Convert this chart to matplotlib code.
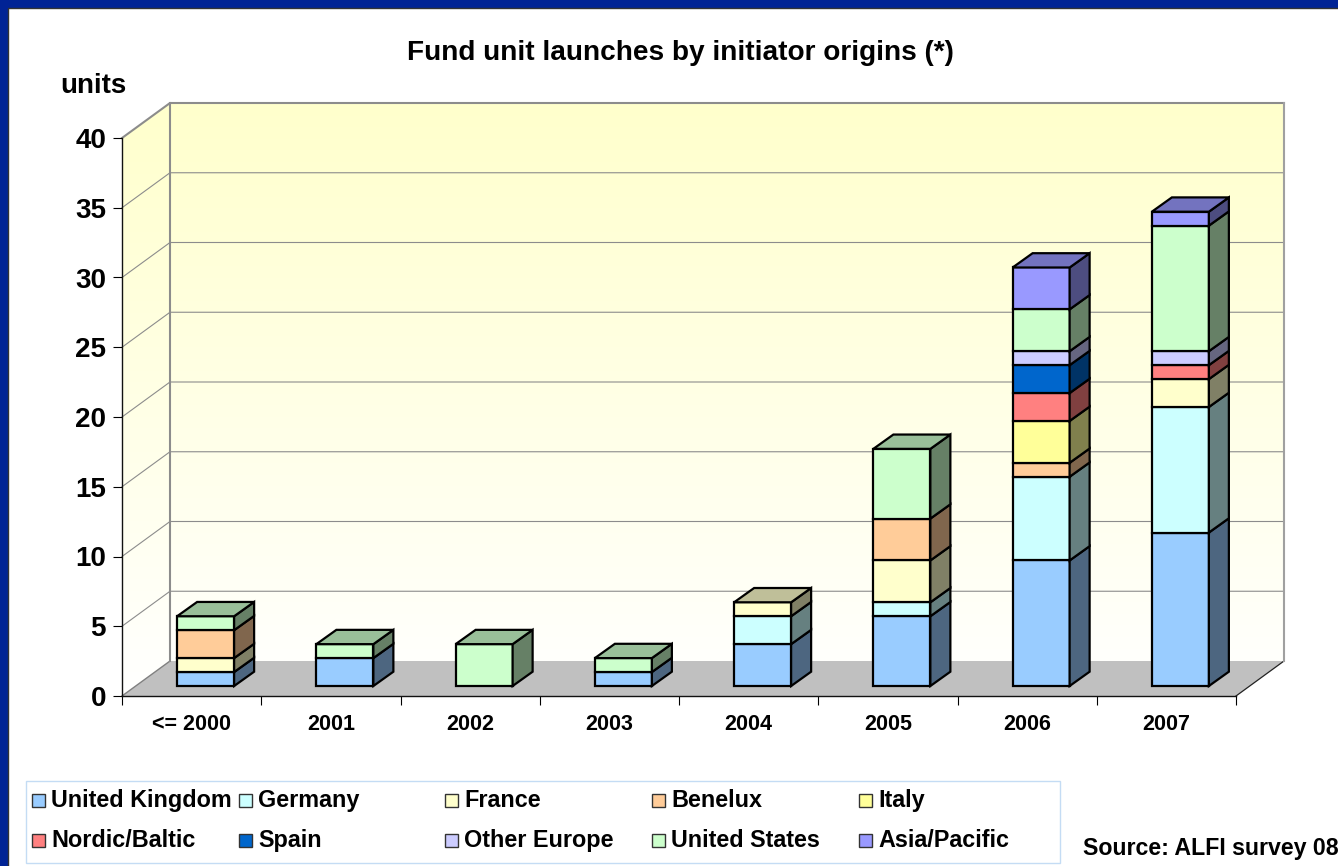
import numpy as np
import matplotlib
matplotlib.use('Agg')
import matplotlib.pyplot as plt
from matplotlib.colors import LinearSegmentedColormap, to_rgb
from matplotlib.patches import Polygon, Rectangle

plt.rcParams['font.family'] = ['Liberation Sans', 'DejaVu Sans']
plt.rcParams['font.weight'] = 'bold'

years = ['<= 2000', '2001', '2002', '2003', '2004', '2005', '2006', '2007']

united_kingdom = [1, 2, 0, 1, 3, 5, 9, 11]
germany = [0, 0, 0, 0, 2, 1, 6, 9]
france = [1, 0, 0, 0, 1, 3, 0, 2]
benelux = [2, 0, 0, 0, 0, 3, 1, 0]
italy = [0, 0, 0, 0, 0, 0, 3, 0]
nordic_baltic = [0, 0, 0, 0, 0, 0, 2, 1]
spain = [0, 0, 0, 0, 0, 0, 2, 0]
other_europe = [0, 0, 0, 0, 0, 0, 1, 1]
united_states = [1, 1, 3, 1, 0, 5, 3, 9]
asia_pacific = [0, 0, 0, 0, 0, 0, 3, 1]

series = [united_kingdom, germany, france, benelux, italy,
          nordic_baltic, spain, other_europe, united_states, asia_pacific]
names = ['United Kingdom', 'Germany', 'France', 'Benelux', 'Italy',
         'Nordic/Baltic', 'Spain', 'Other Europe', 'United States', 'Asia/Pacific']
colors = ['#99CCFF', '#CCFFFF', '#FFFFCC', '#FFCC99', '#FFFF99',
          '#FF8080', '#0066CC', '#CCCCFF', '#CCFFCC', '#9999FF']

W, H = 1338, 866
yticks = list(range(0, 45, 5))


def fx(x):
    return x / W


def fy(y):
    return 1 - y / H


def shade(color, k):
    return tuple(c * k for c in to_rgb(color))


fig = plt.figure(figsize=(W / 100, H / 100), dpi=100, facecolor='#002395')
# white slide panel sits behind everything else, running off the right and bottom
fig.add_artist(Rectangle((fx(7.5), -0.05), 1.1, fy(7.5) + 0.05, transform=fig.transFigure,
                         facecolor='white', edgecolor='#333333', linewidth=1, zorder=-1))

# front plane of the chart box
ax = fig.add_axes([fx(122), fy(696), (1236 - 122) / W, (696 - 138) / H])
ax.patch.set_visible(False)

# depth of the box and of the bars, in data units
dx = 48 / 139.25
dy = 35 / 13.95
bar_off_x = 14 / 139.25
bar_off_y = 10 / 13.95
bar_w = 57 / 139.25
bar_dx = 20 / 139.25
bar_dy = 14.3 / 13.95

# yellow to white walls
wall_cmap = LinearSegmentedColormap.from_list('wall', ['#FFFFCC', '#FFFFFF'])
grad = np.linspace(0, 1, 256).reshape(-1, 1)
back = [(dx, dy), (8 + dx, dy), (8 + dx, 40 + dy), (dx, 40 + dy)]
left = [(0, 0), (dx, dy), (dx, 40 + dy), (0, 40)]
for wall in (back, left):
    im = ax.imshow(grad, cmap=wall_cmap, aspect='auto', origin='upper',
                   extent=(0, 8 + dx, 0, 40 + dy), zorder=0)
    im.set_clip_box(fig.bbox)
    im.set_clip_path(Polygon(wall, transform=ax.transData))

# floor
ax.add_patch(Polygon([(0, 0), (8, 0), (8 + dx, dy), (dx, dy)], closed=True,
                     facecolor='#C0C0C0', edgecolor='none', clip_on=False, zorder=1))
ax.plot([8, 8 + dx], [0, dy], color='#222222', lw=0.9, clip_on=False, zorder=1.2)
ax.plot([0, dx], [0, dy], color='#808080', lw=1, clip_on=False, zorder=1.2)

# gridlines on both walls
for v in yticks[1:]:
    lw = 1.5 if v == 40 else 0.8
    ax.plot([0, dx, 8 + dx], [v, v + dy, v + dy], color='#8C8C8C', lw=lw,
            clip_on=False, zorder=1.1)
ax.plot([dx, dx], [dy, 40 + dy], color='#8C8C8C', lw=1.5, clip_on=False, zorder=1.2)
ax.plot([8 + dx, 8 + dx], [dy, 40 + dy], color='#A0A0A0', lw=1.5, clip_on=False, zorder=1.2)

# stacked bars, each with front, side and top faces
for i in range(len(years)):
    x0 = i + 0.5 + bar_off_x - bar_w / 2
    x1 = x0 + bar_w
    bottom = bar_off_y
    top_color = None
    for values, color in zip(series, colors):
        v = values[i]
        if v == 0:
            continue
        ax.add_patch(Polygon([(x0, bottom), (x1, bottom), (x1, bottom + v), (x0, bottom + v)],
                             closed=True, facecolor=color, edgecolor='black', lw=1.6,
                             clip_on=False, zorder=3, joinstyle='miter'))
        ax.add_patch(Polygon([(x1, bottom), (x1 + bar_dx, bottom + bar_dy),
                              (x1 + bar_dx, bottom + v + bar_dy), (x1, bottom + v)],
                             closed=True, facecolor=shade(color, 0.5), edgecolor='black', lw=1.6,
                             clip_on=False, zorder=3, joinstyle='miter'))
        bottom += v
        top_color = color
    ax.add_patch(Polygon([(x0, bottom), (x1, bottom), (x1 + bar_dx, bottom + bar_dy),
                          (x0 + bar_dx, bottom + bar_dy)],
                         closed=True, facecolor=shade(top_color, 0.75), edgecolor='black', lw=1.6,
                         clip_on=False, zorder=3, joinstyle='miter'))

ax.set_xlim(0, 8)
ax.set_ylim(0, 40)

ax.set_yticks(yticks)
ax.tick_params(axis='y', labelsize=20, length=6.5, width=0.8, pad=5)
ax.set_xticks(np.arange(len(years)) + 0.5, years)
ax.tick_params(axis='x', which='major', labelsize=15.5, length=0, pad=13)
ax.set_xticks(np.arange(len(years) + 1), minor=True)
ax.tick_params(axis='x', which='minor', length=6.5, width=0.8)
for side in ('top', 'right'):
    ax.spines[side].set_visible(False)
for side in ('left', 'bottom'):
    ax.spines[side].set_linewidth(1)
    ax.spines[side].set_color('#111111')

fig.text(fx(680.5), fy(60), 'Fund unit launches by initiator origins (*)',
         fontsize=20.2, ha='center', va='baseline')
fig.text(fx(60), fy(93), 'units', fontsize=20, ha='left', va='baseline')

# legend box with fixed column spacing
fig.add_artist(Rectangle((fx(25.5), fy(863)), (1060 - 25.5) / W, (863 - 780.5) / H,
                         transform=fig.transFigure, facecolor='white',
                         edgecolor='#C4DCF4', linewidth=1))
col_x = [32, 239, 445, 652, 859]
row_y = [800, 840]
for n, (name, color) in enumerate(zip(names, colors)):
    x = col_x[n % 5]
    y = row_y[n // 5]
    fig.add_artist(Rectangle((fx(x), fy(y + 6.5)), 13 / W, 13 / H, transform=fig.transFigure,
                             facecolor=color, edgecolor='#333333', linewidth=1))
    fig.text(fx(x + 19), fy(y + 7), name, fontsize=16.8, ha='left', va='baseline')

fig.text(fx(1083), fy(855), 'Source: ALFI survey 08', fontsize=16.7, ha='left', va='baseline')

fig.savefig('out.png', dpi=100, facecolor=fig.get_facecolor())
